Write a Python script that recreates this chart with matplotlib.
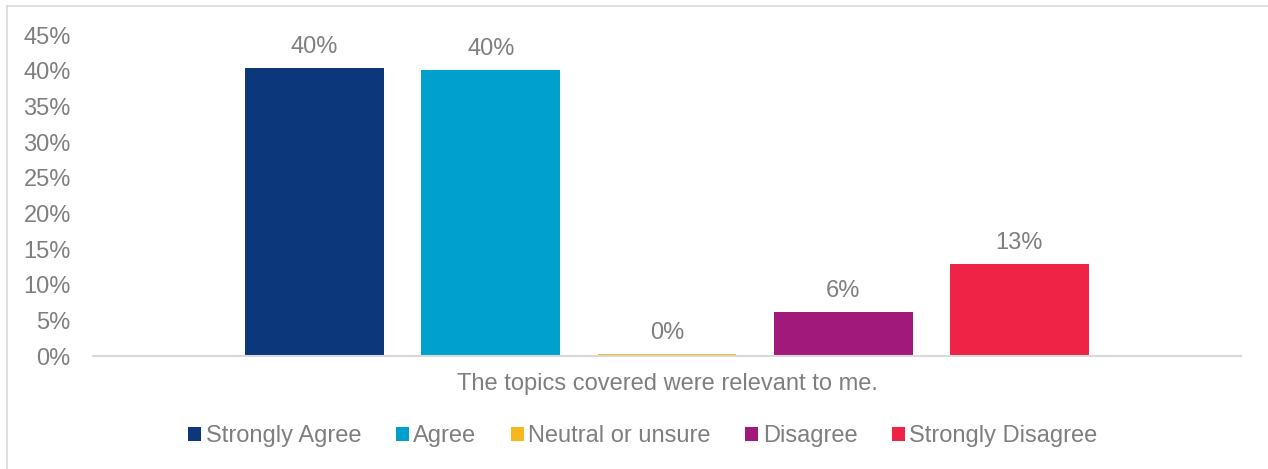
import matplotlib

matplotlib.use("Agg")

import matplotlib.pyplot as plt
from matplotlib.lines import Line2D
from matplotlib.ticker import FuncFormatter

question = "The topics covered were relevant to me."
responses = ["Strongly Agree", "Agree", "Neutral or unsure", "Disagree", "Strongly Disagree"]
shares = [40.4, 40.1, 0.3, 6.2, 12.9]
share_labels = ["40%", "40%", "0%", "6%", "13%"]
colors = ["#0C377A", "#00A0CC", "#F6B81E", "#A0197B", "#EF2346"]
y_ticks = [0, 5, 10, 15, 20, 25, 30, 35, 40, 45]

TEXT_GREY = "#7F7F7F"

plt.rcParams["font.family"] = ["Liberation Sans", "DejaVu Sans"]

fig = plt.figure(figsize=(12.68, 4.69), dpi=100)
ax = fig.add_axes([93 / 1268, 1 - 356 / 469, 1148 / 1268, 321 / 469])

bar_width = 0.121
bar_step = 0.1535
offsets = [(i - 2) * bar_step for i in range(len(responses))]

bars = []
for offset, share, label, color, response in zip(offsets, shares, share_labels, colors, responses):
    bar = ax.bar(offset, share, width=bar_width, color=color, label=response, zorder=2)
    bars.append(bar)
    ax.annotate(
        label,
        (offset, share),
        xytext=(0, 7),
        textcoords="offset points",
        ha="center",
        va="bottom",
        fontsize=17,
        color=TEXT_GREY,
    )

ax.set_xlim(-0.5, 0.5)
ax.set_ylim(0, 45)
ax.set_yticks(y_ticks)
ax.yaxis.set_major_formatter(FuncFormatter(lambda v, _: f"{v:.0f}%"))
ax.set_xticks([0])
ax.set_xticklabels([question])
ax.tick_params(axis="y", length=0, pad=16, labelsize=17, labelcolor=TEXT_GREY)
ax.tick_params(axis="x", length=0, pad=12, labelsize=17, labelcolor=TEXT_GREY)

for side in ["top", "right", "left"]:
    ax.spines[side].set_visible(False)
ax.spines["bottom"].set_color("#D9D9D9")
ax.spines["bottom"].set_linewidth(1.5)

fig.legend(
    bars,
    responses,
    loc="center",
    bbox_to_anchor=(643 / 1268, 1 - 436 / 469),
    ncol=5,
    frameon=False,
    fontsize=17,
    labelcolor=TEXT_GREY,
    handlelength=0.55,
    handleheight=0.55,
    handletextpad=0.2,
    columnspacing=1.45,
)

# chart frame (top and left edges visible)
frame_color = "#D9D9D9"
fig.add_artist(Line2D([7 / 1268, 1], [1 - 6 / 469, 1 - 6 / 469], color=frame_color, linewidth=1.2))
fig.add_artist(Line2D([7 / 1268, 7 / 1268], [0, 1 - 6 / 469], color=frame_color, linewidth=1.2))

fig.savefig("out.png", dpi=100)
plt.close(fig)
